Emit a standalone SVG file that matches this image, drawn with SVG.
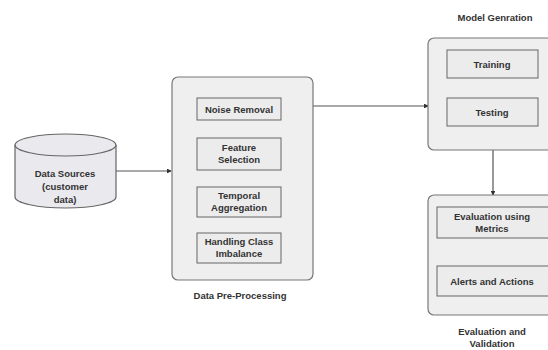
<svg xmlns="http://www.w3.org/2000/svg" width="548" height="350" viewBox="0 0 548 350">
<style>
.box{fill:#efefef;stroke:#777;stroke-width:1.2}
.inner{fill:#ececec;stroke:#666;stroke-width:1}
.t{font-family:"Liberation Sans",Arial,sans-serif;font-size:9.5px;font-weight:bold;fill:#333;text-anchor:middle}
.e{stroke:#555;stroke-width:1.2;fill:none}
</style>
<defs>
<marker id="ah" viewBox="0 0 6 6" refX="5" refY="3" markerWidth="4" markerHeight="4" orient="auto">
<path d="M0,0 L6,3 L0,6 z" fill="#333"/>
</marker>
</defs>
<rect width="548" height="350" fill="#ffffff"/>
<g id="connectors">
<line class="e" x1="116" y1="171" x2="171" y2="171" marker-end="url(#ah)"/>
<line class="e" x1="313" y1="106" x2="428" y2="106" marker-end="url(#ah)"/>
<line class="e" x1="493" y1="150" x2="493" y2="195" marker-end="url(#ah)"/>
</g>
<g id="data-sources">
<path d="M15,145 L15,197 A50.5,11 0 0 0 116,197 L116,145" fill="#e9e9ee" stroke="#666" stroke-width="1.2"/>
<ellipse cx="65.5" cy="145" rx="50.5" ry="11" fill="#e9e9ee" stroke="#666" stroke-width="1.2"/>
<text class="t" x="65" y="177">Data Sources</text>
<text class="t" x="65" y="190">(customer</text>
<text class="t" x="65" y="203">data)</text>
</g>
<g id="preprocessing">
<rect class="box" x="172" y="77" width="141" height="203" rx="6"/>
<text class="t" x="240" y="299" font-size="9">Data Pre-Processing</text>
</g>
<g id="noise-removal">
<rect class="inner" x="197" y="98" width="84" height="22"/>
<text class="t" x="239" y="112.5">Noise Removal</text>
</g>
<g id="feature-selection">
<rect class="inner" x="197" y="138" width="84" height="32"/>
<text class="t" x="239" y="151">Feature</text>
<text class="t" x="239" y="163">Selection</text>
</g>
<g id="temporal-aggregation">
<rect class="inner" x="197" y="187" width="84" height="30"/>
<text class="t" x="239" y="199">Temporal</text>
<text class="t" x="239" y="211">Aggregation</text>
</g>
<g id="class-imbalance">
<rect class="inner" x="197" y="233" width="84" height="30"/>
<text class="t" x="239" y="245">Handling Class</text>
<text class="t" x="239" y="257">Imbalance</text>
</g>
<g id="model-generation">
<rect class="box" x="428" y="38" width="130" height="112" rx="6"/>
<text class="t" x="495" y="21" font-size="8">Model Genration</text>
</g>
<g id="training">
<rect class="inner" x="447" y="50" width="91" height="28"/>
<text class="t" x="492" y="67.5">Training</text>
</g>
<g id="testing">
<rect class="inner" x="447" y="98" width="91" height="28"/>
<text class="t" x="492" y="115.5">Testing</text>
</g>
<g id="evaluation">
<rect class="box" x="428" y="195" width="130" height="120" rx="6"/>
<text class="t" x="492" y="335">Evaluation and</text>
<text class="t" x="492" y="347">Validation</text>
</g>
<g id="eval-metrics">
<rect class="inner" x="437" y="207" width="115" height="31"/>
<text class="t" x="492" y="219.5">Evaluation using</text>
<text class="t" x="492" y="231.5">Metrics</text>
</g>
<g id="alerts">
<rect class="inner" x="437" y="266" width="115" height="30"/>
<text class="t" x="492" y="284.5">Alerts and Actions</text>
</g>
</svg>
